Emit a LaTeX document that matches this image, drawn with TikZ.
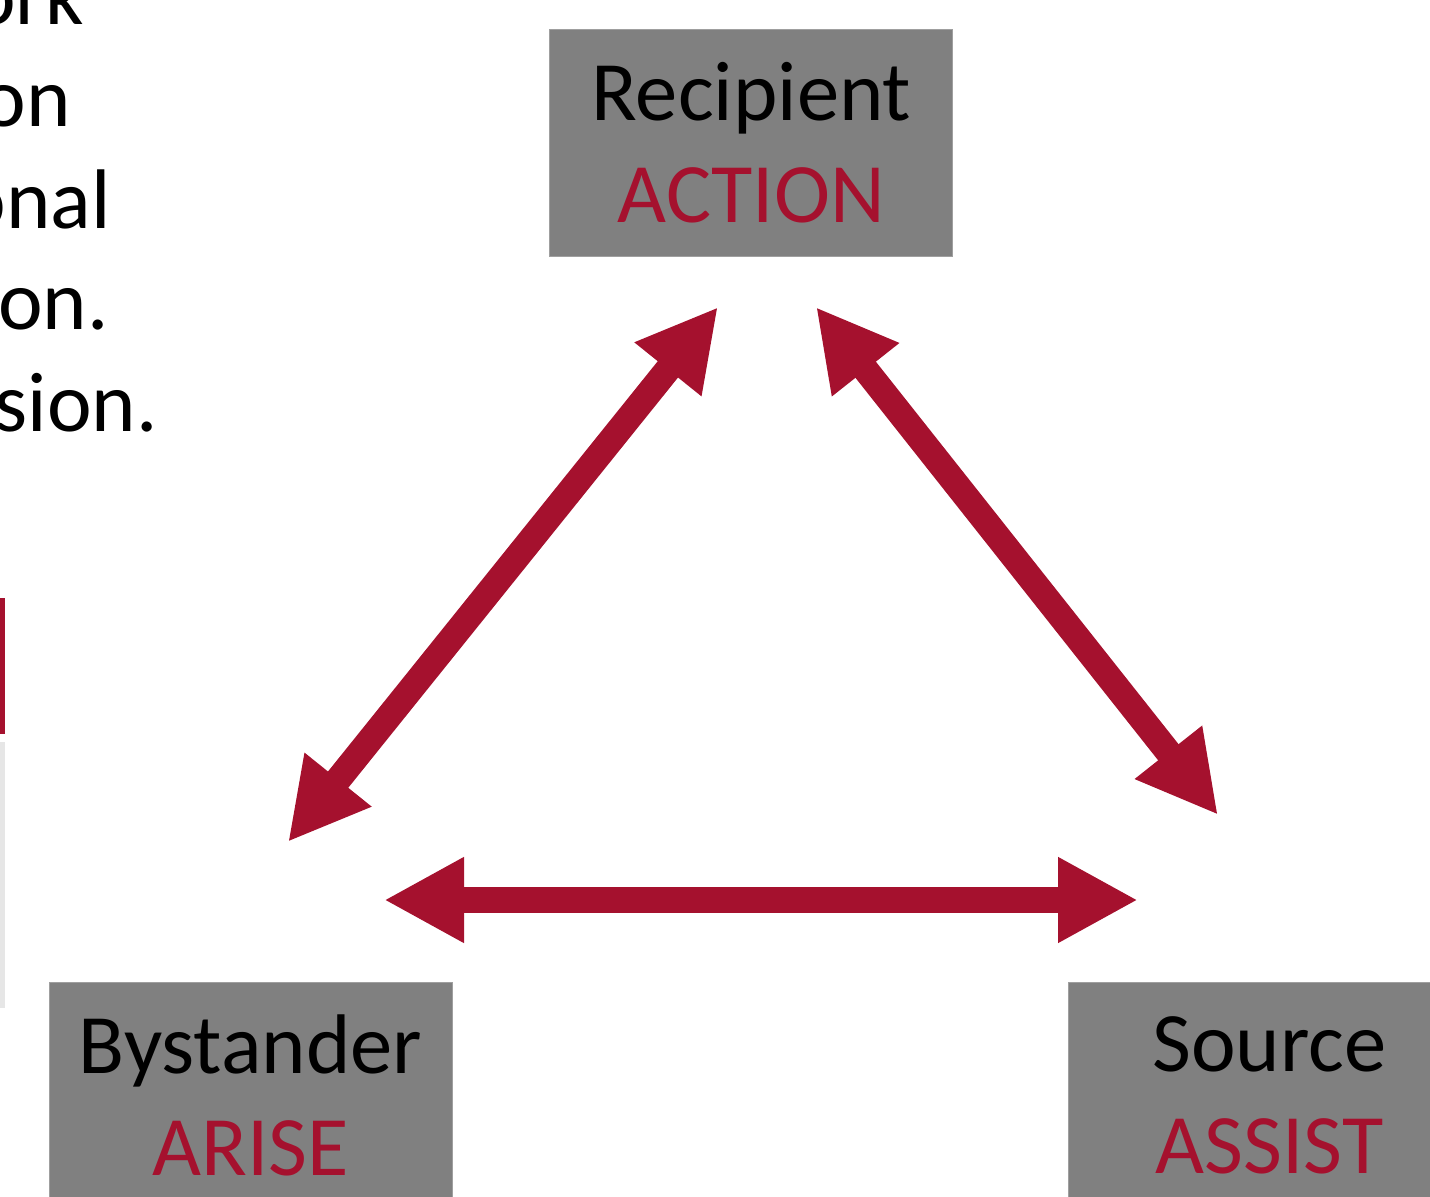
\documentclass[tikz,border=0pt]{standalone}
\usepackage{fontspec}
\setmainfont{Carlito}
\usepackage{tikz}
\usetikzlibrary{arrows.meta, calc}
\usepackage{xcolor}
\definecolor{crimson}{RGB}{165,17,46}
\definecolor{boxgray}{RGB}{128,128,128}
\definecolor{bargray}{RGB}{230,230,230}

\begin{document}
\begin{tikzpicture}[x = 0.5pt, y = -0.5pt,
    rolebox/.style = {fill = boxgray, draw = gray!75, line width = 0.4pt, minimum width = 201.5pt, minimum height = 113.5pt, inner sep = 0pt, align = center, font = \fontsize{42.3}{51}\selectfont},
    frag/.style = {anchor = base east, inner sep = 0pt, font = \fontsize{42.3}{51}\selectfont},
    link/.style = {crimson, line width = 13pt, {Triangle[length = 40pt, width = 40pt]}-{Triangle[length = 40pt, width = 40pt]}}]
    \useasboundingbox (0,0) rectangle (1430,1197);
    \node[frag] (t1) at (84,25){ork};
    \node[frag] (t2) at (71,127){on};
    \node[frag] (t3) at (111,229){onal};
    \node[frag] (t4) at (109,330){on.};
    \node[frag] (t5) at (158,432){sion.};
    \fill[crimson] (0,598) rectangle (5,734);
    \fill[bargray] (0,742) rectangle (5,1008);
    \node[rolebox] (rec) at (751.3,143){Recipient\\\textcolor{crimson}{ACTION}};
    \node[rolebox] (bys) at (250.5,1095.5){Bystander\\\textcolor{crimson}{ARISE}};
    \node[rolebox] (src) at (1269.5,1095.5){Source\\\textcolor{crimson}{ASSIST}};
    \coordinate (rl) at (718,307);
    \coordinate (rr) at (816,307);
    \coordinate (bu) at (288,842);
    \coordinate (br) at (384,900);
    \coordinate (su) at (1218,815);
    \coordinate (sl) at (1138,900);
    \draw[link] (bu) -- (rl);
    \draw[link] (rr) -- (su);
    \draw[link] (br) -- (sl);
\end{tikzpicture}
\end{document}
